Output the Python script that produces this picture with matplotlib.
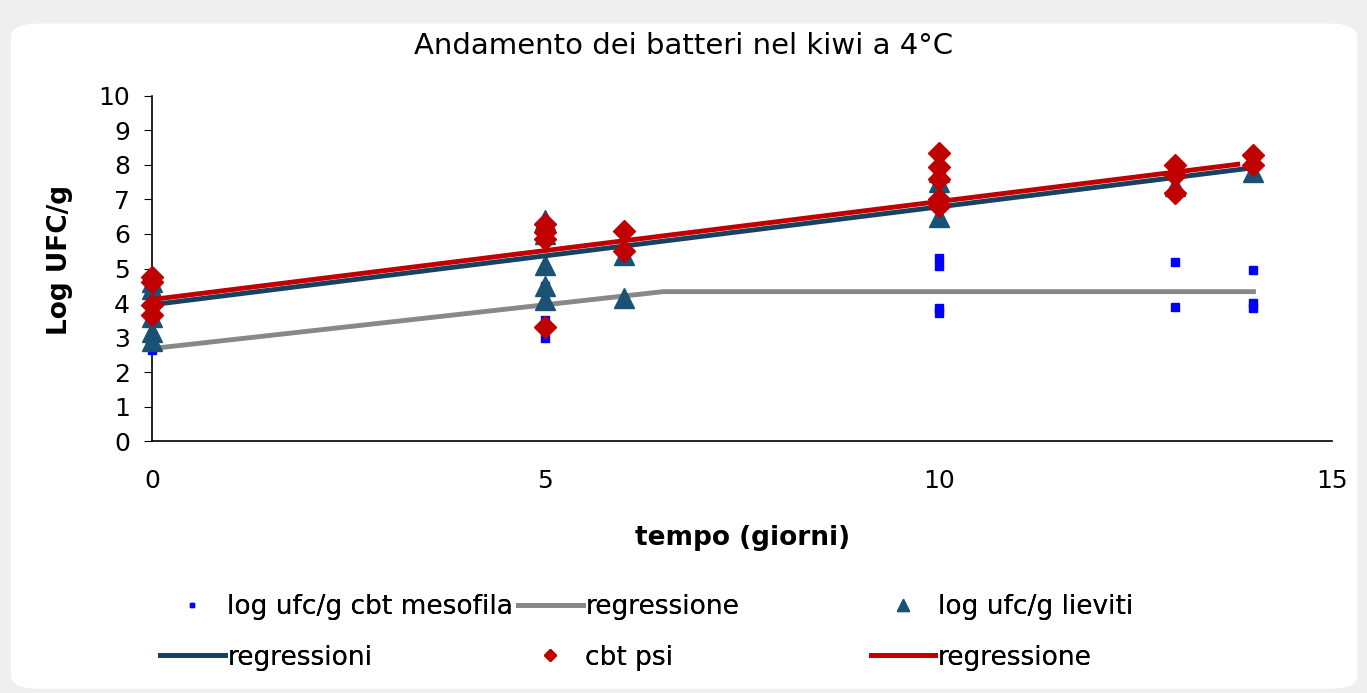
import numpy as np
import matplotlib.pyplot as plt
from matplotlib.patches import FancyBboxPatch

# mesophilic total bacterial count (log ufc/g)
x_meso = [0, 0, 5, 5, 5, 5, 10, 10, 10, 10, 13, 13, 14, 14, 14]
y_meso = [2.65, 2.9, 4.5, 3.5, 3.0, 6.0, 5.3, 5.07, 3.85, 3.7, 5.2, 3.88, 4.96, 4.0, 3.85]

# yeasts (log ufc/g)
x_liev = [0, 0, 0, 0, 0, 5, 5, 5, 5, 5, 6, 6, 10, 10, 10, 13, 14]
y_liev = [4.6, 4.4, 3.6, 3.15, 2.9, 6.4, 6.0, 5.1, 4.5, 4.1, 5.4, 4.15, 7.8, 7.5, 6.5, 7.4, 7.8]

# cbt psi
x_psi = [0, 0, 0, 0, 5, 5, 5, 5, 6, 6, 10, 10, 10, 10, 10, 13, 13, 13, 14, 14]
y_psi = [4.75, 4.6, 3.95, 3.65, 6.3, 6.05, 5.85, 3.3, 6.1, 5.5, 8.35, 7.95, 7.6, 7.0, 6.8, 8.0, 7.7, 7.2, 8.3, 8.0]

# regression lines
x_reg_meso = [0, 6.5, 14]
y_reg_meso = [2.68, 4.33, 4.33]
x_reg_liev = [0, 14]
y_reg_liev = [3.95, 7.92]
x_reg_psi = [0, 13.8]
y_reg_psi = [4.1, 8.02]

fig = plt.figure(figsize=(13.67, 6.93), dpi=100)
fig.patch.set_facecolor("#efefef")
box = FancyBboxPatch((0.008, 0.006), 0.985, 0.96, boxstyle="round,pad=0,rounding_size=0.02",
                     transform=fig.transFigure, facecolor="white", edgecolor="none", zorder=-5)
fig.patches.append(box)

ax = fig.add_axes([0.1112, 0.3636, 0.8633, 0.4979])
ax.set_facecolor("none")

h1, = ax.plot(x_meso, y_meso, "s", color="#0000ff", markersize=5.5, linestyle="none",
              label="log ufc/g cbt mesofila", zorder=3, clip_on=False)
h2, = ax.plot(x_reg_meso, y_reg_meso, color="#888888", linewidth=3.5, label="regressione", zorder=4)
h3, = ax.plot(x_liev, y_liev, "^", color="#1a5276", markersize=14, linestyle="none",
              label="log ufc/g lieviti", zorder=5, clip_on=False)
h4, = ax.plot(x_reg_liev, y_reg_liev, color="#17415f", linewidth=3.5, label="regressioni", zorder=6)
h5, = ax.plot(x_psi, y_psi, "D", color="#c00000", markersize=11, linestyle="none",
              label="cbt psi", zorder=7, clip_on=False)
h6, = ax.plot(x_reg_psi, y_reg_psi, color="#c00000", linewidth=3.5, label="regressione", zorder=8)

ax.set_xlim(0, 15)
ax.set_ylim(0, 10)
ax.set_xticks([0, 5, 10, 15])
ax.set_yticks(range(0, 11))
ax.tick_params(axis="x", length=0, pad=20, labelsize=18)
ax.tick_params(axis="y", length=6, direction="out", labelsize=18, pad=10)
for s in ["top", "right"]:
    ax.spines[s].set_visible(False)
ax.spines["left"].set_linewidth(1.2)
ax.spines["bottom"].set_linewidth(1.2)
for t in ax.get_xticklabels() + ax.get_yticklabels():
    t.set_clip_on(False)

fig.text(0.5, 0.933, "Andamento dei batteri nel kiwi a 4°C", ha="center", va="center", fontsize=21)
fig.text(0.543, 0.224, "tempo (giorni)", ha="center", va="center", fontsize=19, fontweight="bold")
fig.text(0.044, 0.625, "Log UFC/g", ha="center", va="center", rotation=90, fontsize=19, fontweight="bold")

# one legend per column, so the columns sit where they sit in the original
columns = [([h1, h4], 0.117), ([h2, h5], 0.379), ([h3, h6], 0.637)]
for hs, xpos in columns:
    lg = fig.legend(handles=hs, labels=[h.get_label() for h in hs], ncol=1,
                    loc="upper left", bbox_to_anchor=(xpos, 0.143), frameon=False, fontsize=19,
                    handlelength=2.45, handletextpad=0.1, labelspacing=0.94,
                    borderpad=0, borderaxespad=0, markerscale=0.6)
    fig.add_artist(lg)

fig.savefig("out.png", dpi=100, facecolor=fig.get_facecolor())
